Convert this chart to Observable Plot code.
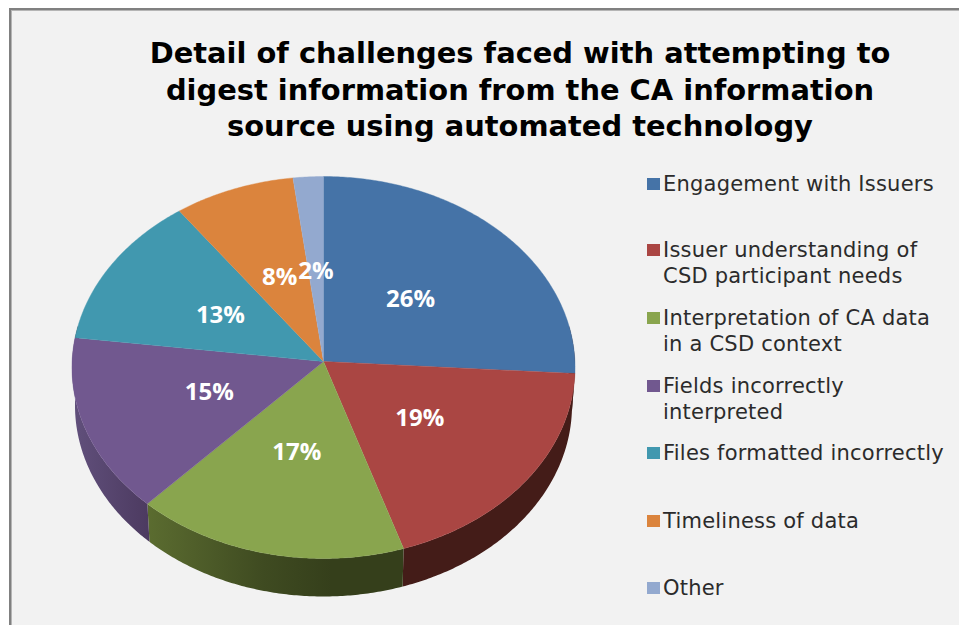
<!DOCTYPE html>
<html>
<head>
<meta charset="utf-8">
<script src="https://cdn.jsdelivr.net/npm/d3@7"></script>
<script src="https://cdn.jsdelivr.net/npm/@observablehq/plot@0.6"></script>
<style>
  html, body { margin: 0; padding: 0; background: #fff; overflow: hidden; }
  #panel {
    position: absolute; left: 9px; top: 8px; width: 950px; height: 617px;
    box-sizing: border-box; background: #f2f2f2;
    border-left: 2px solid #808080; border-top: 2px solid #808080;
    box-shadow: inset 1px 1px 0 #b5b5b5; overflow: hidden;
  }
  #title {
    position: absolute; left: 0; top: 25px; width: 1018px; margin: 0; text-align: center;
    font: bold 28.9px/36.5px "DejaVu Sans", sans-serif; color: #000;
  }
  #pie { position: absolute; left: 1px; top: 158px; }
  #pie svg { display: block; background: transparent; }
  #legend { position: absolute; left: 636px; top: 0; width: 312px; height: 100%; }
  .entry { position: absolute; left: 0; color: #2b2b2b; font: 21px/25.5px "DejaVu Sans", sans-serif; letter-spacing: 0.22px; white-space: nowrap; }
  .swatch { position: absolute; left: 0; top: 6px; width: 13px; height: 12px; }
  .entry span { display: block; margin-left: 16px; }
</style>
</head>
<body>
<div id="panel">
  <h1 id="title">Detail of challenges faced with attempting to<br>digest information from the CA information<br>source using automated technology</h1>
  <div id="pie"></div>
  <div id="legend"></div>
</div>
<script>
// Survey shares, in percent, clockwise from twelve o'clock
const categories = [
  "Engagement with Issuers",
  "Issuer understanding of CSD participant needs",
  "Interpretation of CA data in a CSD context",
  "Fields incorrectly interpreted",
  "Files formatted incorrectly",
  "Timeliness of data",
  "Other"
];
const values = [26, 19, 17, 15, 13, 8, 2];
const colors = ["#4573a7", "#aa4643", "#89a54e", "#71588f", "#4198af", "#db843d", "#93a9cf"];
const legendLines = [
  ["Engagement with Issuers"],
  ["Issuer understanding of", "CSD participant needs"],
  ["Interpretation of CA data", "in a CSD context"],
  ["Fields incorrectly", "interpreted"],
  ["Files formatted incorrectly"],
  ["Timeliness of data"],
  ["Other"]
];
const legendTops = [162, 228, 296, 364, 431, 499, 566];

// Canvas and tilted-disc geometry, in pixels
const width = 620, height = 450;
const centerX = 311, centerY = 193;
const radiusX = 251.4, radiusY = 190.8;
const perspective = 0.0314;   // far edge of the disc recedes slightly
const thickness = 38 / radiusY;
const lowerRimScale = 0.988;

// Disc angle (clockwise from top, radians) to chart coordinates
function project(angle, r = 1, depth = 0, scale = 1) {
  const u = r * Math.sin(angle), v = r * Math.cos(angle);
  const w = 1 + perspective * v;
  return { x: scale * u / w, y: v / w - depth };
}

const total = d3.sum(values);
const cumulative = d3.cumsum(values);
const slices = categories.map((name, i) => ({
  name,
  value: values[i],
  a0: ((cumulative[i] - values[i]) / total) * 2 * Math.PI,
  a1: (cumulative[i] / total) * 2 * Math.PI
}));

function arcAngles(a0, a1) {
  const n = Math.max(2, Math.ceil((a1 - a0) / 0.01));
  return d3.range(n + 1).map((k) => a0 + ((a1 - a0) * k) / n);
}

// Top faces: apex followed by the rim
const faces = slices.flatMap((s) => [
  { name: s.name, ...project(0, 0) },
  ...arcAngles(s.a0, s.a1).map((a) => ({ name: s.name, ...project(a) }))
]);

// Side wall of a slice, front half of the disc only
function wall(s) {
  const a0 = Math.max(s.a0, Math.PI * 0.44), a1 = Math.min(s.a1, Math.PI * 1.56);
  if (a1 <= a0) return [];
  const arc = arcAngles(a0, a1);
  return [
    ...arc.map((a) => project(a)),
    ...arc.slice().reverse().map((a) => project(a, 1, thickness, lowerRimScale))
  ];
}

const wallFills = ["#441c18", "#441c18", "url(#wall-green)", "url(#wall-purple)", "#441c18", "#441c18", "#441c18"];

const labels = slices.map((s) => ({
  text: `${s.value}%`,
  ...project((s.a0 + s.a1) / 2, 0.48)
}));

// Horizontal shading used on the lit side walls
function gradientDefs() {
  const svg = d3.create("svg:defs");
  const add = (id, stops) => {
    const g = svg.append("linearGradient").attr("id", id).attr("x1", 0).attr("x2", 1).attr("y1", 0).attr("y2", 0);
    stops.forEach(([o, c]) => g.append("stop").attr("offset", o).attr("stop-color", c));
  };
  add("wall-green", [[0, "#5b6c30"], [0.45, "#3f4b21"], [0.72, "#353f1b"], [1, "#353f1b"]]);
  add("wall-purple", [[0, "#61507c"], [1, "#4c3a60"]]);
  return svg.node();
}

const chart = Plot.plot({
  width, height,
  margin: 0,
  style: { background: "transparent", overflow: "visible" },
  x: { domain: [-centerX / radiusX, (width - centerX) / radiusX], range: [0, width], axis: null },
  y: { domain: [centerY / radiusY, (centerY - height) / radiusY], range: [0, height], axis: null },
  color: { domain: categories, range: colors },
  marks: [
    gradientDefs,
    ...slices.map((s, i) => Plot.line(wall(s), { x: "x", y: "y", fill: wallFills[i], stroke: "none" })),
    Plot.line(faces, { x: "x", y: "y", z: "name", fill: "name", stroke: "name", strokeWidth: 0.4 }),
    Plot.text(labels, {
      x: "x", y: "y", text: "text", fill: "white",
      fontFamily: "'Open Sans', sans-serif", fontWeight: 700, fontSize: 24
    })
  ]
});
document.getElementById("pie").append(chart);

// Legend column to the right of the pie
const legend = d3.select("#legend");
legendLines.forEach((lines, i) => {
  const entry = legend.append("div").attr("class", "entry").style("top", `${legendTops[i]}px`);
  entry.append("div").attr("class", "swatch").style("background", colors[i]);
  lines.forEach((line) => entry.append("span").text(line));
});
</script>
</body>
</html>
